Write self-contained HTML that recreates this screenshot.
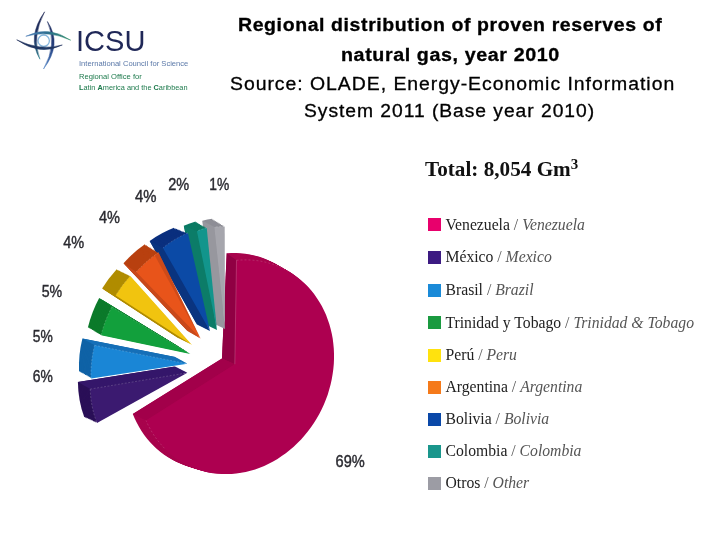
<!DOCTYPE html>
<html><head><meta charset="utf-8"><title>Regional distribution of proven reserves of natural gas</title>
<style>
html,body{margin:0;padding:0;background:#fff;}
body{width:720px;height:540px;position:relative;overflow:hidden;font-family:"Liberation Sans",sans-serif;}
.abs{position:absolute;white-space:nowrap;}
.t{position:absolute;white-space:nowrap;color:#000;font-size:18px;line-height:22px;letter-spacing:0.55px;transform-origin:0 0;-webkit-text-stroke:0.3px #000;}
.tb{font-weight:bold;}
#pie{position:absolute;left:0;top:0;}
#pie text{font-family:"Liberation Sans",sans-serif;font-size:15.6px;fill:#2a2a30;stroke:#2a2a30;stroke-width:0.4px;}
.lg{position:absolute;left:427.8px;height:13.3px;white-space:nowrap;font-family:"Liberation Serif",serif;font-size:15.7px;line-height:13.3px;color:#222;}
.lg i{position:absolute;left:0;top:0;width:12.8px;height:13px;display:block;}
.lg span{position:absolute;left:17.7px;top:-0.6px;}
.lg em{color:#555;}
.lg u{color:#555;text-decoration:none;}
#total{position:absolute;left:425px;top:153.7px;font-family:"Liberation Serif",serif;font-weight:bold;font-size:21.2px;line-height:30px;color:#111;white-space:nowrap;}
#total sup{font-size:15px;vertical-align:baseline;position:relative;top:-6.5px;}
.lo{position:absolute;white-space:nowrap;transform-origin:0 0;}
</style></head><body>
<svg id="pie" width="720" height="540" viewBox="0 0 720 540">
<defs>
<linearGradient id="lg1" x1="0" y1="0" x2="0" y2="1"><stop offset="0" stop-color="#1b2250"/><stop offset="0.6" stop-color="#1f3566"/><stop offset="1" stop-color="#2c7f8c"/></linearGradient>
<linearGradient id="lg2" x1="0" y1="0" x2="0" y2="1"><stop offset="0" stop-color="#1d2b5c"/><stop offset="0.5" stop-color="#27407e"/><stop offset="1" stop-color="#4a7fc4"/></linearGradient>
<linearGradient id="lg3" x1="0" y1="0" x2="1" y2="0"><stop offset="0" stop-color="#4f7fb8"/><stop offset="0.45" stop-color="#2f6f93"/><stop offset="1" stop-color="#2c8c66"/></linearGradient>
<linearGradient id="lg4" x1="0" y1="0" x2="1" y2="0"><stop offset="0" stop-color="#1b2a57"/><stop offset="0.6" stop-color="#1f3a66"/><stop offset="1" stop-color="#1f2f5c"/></linearGradient>
</defs>
<g id="logo" stroke="none">
<circle cx="43.7" cy="40.7" r="5.7" fill="none" stroke="#86b6dc" stroke-width="1.3"/>
<path d="M44.6 11.8 Q26.6 37 39.9 59.2 Q31.4 37 44.6 11.8Z" fill="url(#lg1)" stroke="url(#lg1)" stroke-width="0.5" stroke-linejoin="round"/>
<path d="M47.4 21.5 Q62.6 44 43.5 69 Q57.6 44 47.4 21.5Z" fill="url(#lg2)" stroke="url(#lg2)" stroke-width="0.5" stroke-linejoin="round"/>
<path d="M25.8 36.3 Q48 24.8 70.7 40.2 Q48 29.7 25.8 36.3Z" fill="url(#lg3)" stroke="url(#lg3)" stroke-width="0.5" stroke-linejoin="round"/>
<path d="M16.7 39.8 Q40 56.4 62.3 45 Q40 51.4 16.7 39.8Z" fill="url(#lg4)" stroke="url(#lg4)" stroke-width="0.5" stroke-linejoin="round"/>
</g>
<path d="M222.0 358.4 L226.7 253.3 L231.4 253.0 L236.0 253.0 L240.6 253.2 L245.2 253.7 L249.8 254.4 L254.2 255.4 L258.6 256.6 L262.9 258.0 L267.1 259.7 L271.3 261.7 L275.3 263.8 L279.1 266.2 L282.9 268.8 L286.5 271.6 L290.0 274.7 L293.3 277.9 L296.4 281.3 L299.4 284.9 L302.2 288.7 L304.8 292.7 L307.2 296.8 L309.5 301.0 L311.5 305.4 L313.3 309.9 L314.9 314.6 L316.3 319.3 L317.5 324.2 L318.5 329.1 L319.2 334.1 L319.8 339.2 L320.1 344.3 L320.1 349.5 L320.0 354.7 L319.6 359.9 L319.0 365.1 L318.2 370.3 L317.1 375.5 L315.9 380.6 L314.4 385.7 L312.7 390.8 L310.8 395.7 L308.7 400.6 L306.4 405.5 L303.9 410.2 L301.2 414.7 L298.3 419.2 L295.3 423.5 L292.1 427.7 L288.7 431.8 L285.2 435.6 L281.5 439.3 L277.7 442.8 L273.8 446.2 L269.8 449.3 L265.6 452.2 L261.3 455.0 L257.0 457.5 L252.6 459.7 L248.1 461.8 L243.5 463.6 L238.9 465.2 L234.3 466.5 L229.7 467.6 L225.0 468.5 L220.3 469.1 L215.6 469.4 L211.0 469.5 L206.3 469.4 L201.7 469.0 L197.2 468.3 L192.7 467.4 L188.3 466.3 L183.9 464.9 L179.7 463.3 L175.6 461.4 L171.5 459.3 L167.6 457.0 L163.8 454.5 L160.2 451.7 L156.6 448.7 L153.3 445.6 L150.1 442.2 L147.1 438.7 L144.2 434.9 L141.5 431.0 L139.1 427.0 L136.8 422.7 L134.7 418.4 L132.8 413.9Z" fill="#a8044d"/>
<path d="M223.3 359.0 L227.7 254.0 L232.4 253.7 L237.0 253.7 L241.6 253.9 L246.2 254.4 L250.8 255.1 L255.2 256.0 L259.7 257.2 L264.0 258.7 L268.2 260.4 L272.3 262.3 L276.3 264.4 L280.2 266.8 L284.0 269.4 L287.6 272.2 L291.1 275.2 L294.4 278.5 L297.6 281.9 L300.6 285.5 L303.4 289.2 L306.0 293.2 L308.5 297.3 L310.7 301.5 L312.8 305.9 L314.6 310.4 L316.2 315.1 L317.6 319.8 L318.8 324.7 L319.8 329.6 L320.6 334.6 L321.1 339.7 L321.4 344.8 L321.5 349.9 L321.4 355.1 L321.0 360.3 L320.4 365.5 L319.6 370.7 L318.6 375.9 L317.3 381.0 L315.9 386.1 L314.2 391.2 L312.3 396.1 L310.2 401.0 L307.9 405.8 L305.4 410.5 L302.7 415.1 L299.9 419.6 L296.9 423.9 L293.7 428.1 L290.3 432.1 L286.8 436.0 L283.1 439.7 L279.3 443.2 L275.4 446.6 L271.4 449.7 L267.2 452.6 L263.0 455.3 L258.6 457.9 L254.2 460.1 L249.7 462.2 L245.2 464.0 L240.6 465.6 L235.9 466.9 L231.3 468.0 L226.6 468.9 L221.9 469.5 L217.2 469.9 L212.5 470.0 L207.9 469.8 L203.3 469.5 L198.7 468.8 L194.3 467.9 L189.8 466.8 L185.5 465.4 L181.2 463.8 L177.1 461.9 L173.0 459.9 L169.1 457.6 L165.3 455.0 L161.6 452.3 L158.1 449.3 L154.7 446.2 L151.5 442.8 L148.5 439.3 L145.6 435.5 L142.9 431.6 L140.4 427.6 L138.1 423.4 L136.0 419.0 L134.1 414.6Z" fill="#a8044d"/>
<path d="M224.6 359.6 L228.7 254.7 L233.3 254.4 L238.0 254.4 L242.6 254.6 L247.2 255.0 L251.8 255.7 L256.3 256.7 L260.7 257.9 L265.0 259.3 L269.3 261.0 L273.4 262.9 L277.4 265.0 L281.3 267.4 L285.1 270.0 L288.7 272.8 L292.2 275.8 L295.6 279.0 L298.7 282.4 L301.8 286.0 L304.6 289.8 L307.2 293.7 L309.7 297.8 L311.9 302.0 L314.0 306.4 L315.9 310.9 L317.5 315.5 L318.9 320.3 L320.2 325.1 L321.1 330.0 L321.9 335.0 L322.5 340.1 L322.8 345.2 L322.9 350.4 L322.8 355.5 L322.4 360.7 L321.9 365.9 L321.1 371.1 L320.0 376.3 L318.8 381.4 L317.3 386.5 L315.7 391.5 L313.8 396.5 L311.7 401.4 L309.4 406.2 L307.0 410.9 L304.3 415.5 L301.5 420.0 L298.4 424.3 L295.2 428.5 L291.9 432.5 L288.4 436.4 L284.7 440.1 L280.9 443.6 L277.0 446.9 L273.0 450.1 L268.8 453.0 L264.6 455.7 L260.2 458.2 L255.8 460.5 L251.3 462.6 L246.8 464.4 L242.2 466.0 L237.5 467.4 L232.9 468.5 L228.2 469.3 L223.5 470.0 L218.8 470.3 L214.1 470.4 L209.5 470.3 L204.9 469.9 L200.3 469.3 L195.8 468.4 L191.4 467.3 L187.0 465.9 L182.8 464.3 L178.6 462.5 L174.5 460.4 L170.6 458.1 L166.8 455.6 L163.1 452.8 L159.5 449.9 L156.2 446.7 L152.9 443.4 L149.9 439.9 L147.0 436.2 L144.3 432.3 L141.8 428.2 L139.5 424.0 L137.4 419.7 L135.4 415.2Z" fill="#a8044d"/>
<path d="M225.8 360.1 L229.6 255.4 L234.3 255.1 L239.0 255.1 L243.7 255.3 L248.3 255.7 L252.8 256.4 L257.3 257.3 L261.7 258.5 L266.1 260.0 L270.3 261.6 L274.5 263.5 L278.5 265.7 L282.4 268.0 L286.2 270.6 L289.9 273.4 L293.4 276.4 L296.7 279.6 L299.9 283.0 L302.9 286.5 L305.8 290.3 L308.4 294.2 L310.9 298.3 L313.2 302.5 L315.3 306.9 L317.1 311.4 L318.8 316.0 L320.2 320.8 L321.5 325.6 L322.5 330.5 L323.3 335.5 L323.8 340.5 L324.2 345.6 L324.3 350.8 L324.2 356.0 L323.8 361.1 L323.3 366.3 L322.5 371.5 L321.5 376.7 L320.3 381.8 L318.8 386.9 L317.2 391.9 L315.3 396.9 L313.2 401.8 L311.0 406.6 L308.5 411.3 L305.8 415.9 L303.0 420.3 L300.0 424.7 L296.8 428.9 L293.5 432.9 L290.0 436.8 L286.3 440.5 L282.5 444.0 L278.6 447.3 L274.6 450.5 L270.4 453.4 L266.2 456.1 L261.8 458.6 L257.4 460.9 L252.9 463.0 L248.4 464.8 L243.8 466.4 L239.1 467.8 L234.5 468.9 L229.8 469.8 L225.1 470.4 L220.4 470.8 L215.7 470.9 L211.1 470.8 L206.4 470.4 L201.9 469.8 L197.4 468.9 L192.9 467.8 L188.6 466.4 L184.3 464.8 L180.1 463.0 L176.0 460.9 L172.1 458.7 L168.2 456.1 L164.5 453.4 L161.0 450.5 L157.6 447.3 L154.4 444.0 L151.3 440.5 L148.4 436.8 L145.7 432.9 L143.2 428.9 L140.8 424.7 L138.7 420.3 L136.8 415.9Z" fill="#a8044d"/>
<path d="M227.1 360.7 L230.6 256.1 L235.3 255.8 L240.0 255.7 L244.7 255.9 L249.3 256.4 L253.8 257.1 L258.3 258.0 L262.8 259.2 L267.1 260.6 L271.4 262.3 L275.5 264.1 L279.6 266.3 L283.5 268.6 L287.3 271.2 L291.0 274.0 L294.5 277.0 L297.9 280.1 L301.1 283.5 L304.1 287.1 L307.0 290.8 L309.6 294.7 L312.1 298.8 L314.4 303.0 L316.5 307.4 L318.4 311.9 L320.1 316.5 L321.5 321.2 L322.8 326.0 L323.8 330.9 L324.6 335.9 L325.2 341.0 L325.5 346.1 L325.7 351.2 L325.6 356.4 L325.3 361.6 L324.7 366.7 L323.9 371.9 L323.0 377.1 L321.7 382.2 L320.3 387.3 L318.7 392.3 L316.8 397.3 L314.8 402.2 L312.5 407.0 L310.0 411.7 L307.4 416.3 L304.6 420.7 L301.6 425.0 L298.4 429.2 L295.0 433.3 L291.6 437.1 L287.9 440.8 L284.1 444.4 L280.2 447.7 L276.2 450.9 L272.0 453.8 L267.8 456.5 L263.5 459.0 L259.0 461.3 L254.6 463.4 L250.0 465.3 L245.4 466.9 L240.8 468.2 L236.1 469.3 L231.4 470.2 L226.7 470.8 L222.0 471.2 L217.3 471.4 L212.6 471.2 L208.0 470.9 L203.4 470.3 L198.9 469.4 L194.5 468.3 L190.1 466.9 L185.8 465.4 L181.6 463.5 L177.5 461.5 L173.6 459.2 L169.7 456.7 L166.0 454.0 L162.5 451.0 L159.0 447.9 L155.8 444.6 L152.7 441.1 L149.8 437.4 L147.1 433.5 L144.5 429.5 L142.2 425.3 L140.0 421.0 L138.1 416.5Z" fill="#a8044d"/>
<path d="M228.4 361.3 L231.6 256.8 L236.3 256.5 L241.0 256.4 L245.7 256.6 L250.3 257.0 L254.8 257.7 L259.4 258.6 L263.8 259.8 L268.2 261.2 L272.4 262.9 L276.6 264.8 L280.7 266.9 L284.6 269.2 L288.4 271.8 L292.1 274.5 L295.6 277.5 L299.0 280.7 L302.2 284.1 L305.3 287.6 L308.1 291.4 L310.8 295.3 L313.3 299.3 L315.6 303.5 L317.7 307.9 L319.6 312.4 L321.3 317.0 L322.8 321.7 L324.1 326.5 L325.1 331.4 L325.9 336.4 L326.5 341.4 L326.9 346.5 L327.1 351.6 L327.0 356.8 L326.7 362.0 L326.1 367.1 L325.4 372.3 L324.4 377.5 L323.2 382.6 L321.8 387.7 L320.2 392.7 L318.3 397.7 L316.3 402.6 L314.0 407.4 L311.6 412.0 L308.9 416.6 L306.1 421.1 L303.1 425.4 L300.0 429.6 L296.6 433.6 L293.1 437.5 L289.5 441.2 L285.7 444.8 L281.8 448.1 L277.8 451.2 L273.7 454.2 L269.4 456.9 L265.1 459.4 L260.7 461.7 L256.2 463.8 L251.6 465.7 L247.0 467.3 L242.4 468.6 L237.7 469.8 L233.0 470.7 L228.3 471.3 L223.6 471.7 L218.9 471.8 L214.2 471.7 L209.6 471.4 L205.0 470.8 L200.5 469.9 L196.0 468.8 L191.6 467.5 L187.3 465.9 L183.1 464.1 L179.0 462.0 L175.1 459.7 L171.2 457.3 L167.5 454.5 L163.9 451.6 L160.5 448.5 L157.2 445.2 L154.1 441.7 L151.2 438.0 L148.4 434.1 L145.9 430.1 L143.5 426.0 L141.4 421.6 L139.4 417.2Z" fill="#a8044d"/>
<path d="M229.7 361.9 L232.6 257.5 L237.3 257.2 L242.0 257.1 L246.7 257.3 L251.3 257.7 L255.9 258.4 L260.4 259.3 L264.8 260.5 L269.2 261.9 L273.5 263.5 L277.7 265.4 L281.7 267.5 L285.7 269.8 L289.5 272.4 L293.2 275.1 L296.8 278.1 L300.2 281.3 L303.4 284.6 L306.4 288.2 L309.3 291.9 L312.0 295.8 L314.6 299.8 L316.9 304.0 L319.0 308.4 L320.9 312.9 L322.6 317.5 L324.1 322.2 L325.4 327.0 L326.5 331.9 L327.3 336.8 L327.9 341.9 L328.3 346.9 L328.5 352.1 L328.4 357.2 L328.1 362.4 L327.6 367.6 L326.8 372.7 L325.9 377.9 L324.7 383.0 L323.3 388.1 L321.7 393.1 L319.8 398.1 L317.8 402.9 L315.6 407.7 L313.1 412.4 L310.5 417.0 L307.7 421.5 L304.7 425.8 L301.5 430.0 L298.2 434.0 L294.7 437.9 L291.1 441.6 L287.3 445.1 L283.4 448.5 L279.4 451.6 L275.3 454.6 L271.0 457.3 L266.7 459.8 L262.3 462.1 L257.8 464.2 L253.2 466.1 L248.6 467.7 L244.0 469.1 L239.3 470.2 L234.6 471.1 L229.9 471.7 L225.2 472.1 L220.5 472.3 L215.8 472.2 L211.2 471.8 L206.6 471.2 L202.0 470.4 L197.6 469.3 L193.2 468.0 L188.9 466.4 L184.6 464.6 L180.5 462.6 L176.5 460.3 L172.7 457.8 L168.9 455.1 L165.4 452.2 L161.9 449.1 L158.6 445.8 L155.5 442.3 L152.6 438.6 L149.8 434.8 L147.3 430.8 L144.9 426.6 L142.7 422.3 L140.7 417.9Z" fill="#a8044d"/>
<path d="M231.0 362.5 L233.6 258.2 L238.3 257.9 L243.0 257.8 L247.7 258.0 L252.3 258.4 L256.9 259.1 L261.4 260.0 L265.9 261.1 L270.2 262.5 L274.5 264.1 L278.7 266.0 L282.8 268.1 L286.8 270.4 L290.6 272.9 L294.3 275.7 L297.9 278.7 L301.3 281.8 L304.5 285.2 L307.6 288.7 L310.5 292.4 L313.2 296.3 L315.8 300.4 L318.1 304.6 L320.2 308.9 L322.2 313.4 L323.9 317.9 L325.4 322.6 L326.7 327.4 L327.8 332.3 L328.6 337.3 L329.3 342.3 L329.7 347.4 L329.8 352.5 L329.8 357.6 L329.5 362.8 L329.0 368.0 L328.3 373.1 L327.3 378.3 L326.2 383.4 L324.8 388.5 L323.2 393.5 L321.3 398.4 L319.3 403.3 L317.1 408.1 L314.7 412.8 L312.1 417.4 L309.3 421.8 L306.3 426.2 L303.1 430.4 L299.8 434.4 L296.3 438.3 L292.7 442.0 L288.9 445.5 L285.0 448.9 L281.0 452.0 L276.9 455.0 L272.6 457.7 L268.3 460.2 L263.9 462.5 L259.4 464.6 L254.8 466.5 L250.2 468.1 L245.6 469.5 L240.9 470.6 L236.2 471.5 L231.5 472.2 L226.8 472.6 L222.1 472.7 L217.4 472.7 L212.7 472.3 L208.1 471.7 L203.6 470.9 L199.1 469.8 L194.7 468.5 L190.4 466.9 L186.2 465.1 L182.0 463.1 L178.0 460.8 L174.2 458.4 L170.4 455.7 L166.8 452.8 L163.4 449.7 L160.1 446.4 L156.9 442.9 L154.0 439.2 L151.2 435.4 L148.6 431.4 L146.2 427.2 L144.0 423.0 L142.0 418.5Z" fill="#a8044d"/>
<path d="M232.2 363.0 L234.6 258.9 L239.3 258.6 L244.0 258.5 L248.7 258.7 L253.3 259.1 L257.9 259.7 L262.4 260.6 L266.9 261.8 L271.3 263.1 L275.6 264.8 L279.8 266.6 L283.9 268.7 L287.9 271.0 L291.7 273.5 L295.4 276.3 L299.0 279.2 L302.4 282.4 L305.7 285.7 L308.8 289.3 L311.7 293.0 L314.4 296.8 L317.0 300.9 L319.3 305.1 L321.5 309.4 L323.4 313.8 L325.2 318.4 L326.7 323.1 L328.0 327.9 L329.1 332.8 L330.0 337.7 L330.6 342.7 L331.0 347.8 L331.2 352.9 L331.2 358.1 L330.9 363.2 L330.4 368.4 L329.7 373.5 L328.8 378.7 L327.6 383.8 L326.3 388.9 L324.7 393.9 L322.9 398.8 L320.8 403.7 L318.6 408.5 L316.2 413.2 L313.6 417.8 L310.8 422.2 L307.8 426.5 L304.7 430.7 L301.4 434.8 L297.9 438.7 L294.3 442.4 L290.5 445.9 L286.6 449.2 L282.6 452.4 L278.5 455.4 L274.3 458.1 L269.9 460.6 L265.5 463.0 L261.0 465.0 L256.5 466.9 L251.8 468.5 L247.2 469.9 L242.5 471.1 L237.8 472.0 L233.1 472.6 L228.4 473.0 L223.6 473.2 L219.0 473.1 L214.3 472.8 L209.7 472.2 L205.1 471.4 L200.7 470.3 L196.2 469.0 L191.9 467.4 L187.7 465.7 L183.5 463.6 L179.5 461.4 L175.6 458.9 L171.9 456.2 L168.3 453.4 L164.8 450.3 L161.5 447.0 L158.3 443.5 L155.4 439.8 L152.6 436.0 L150.0 432.0 L147.6 427.9 L145.4 423.6 L143.4 419.2Z" fill="#a8044d"/>
<path d="M233.5 363.6 L235.5 259.6 L240.3 259.3 L245.0 259.2 L249.7 259.3 L254.3 259.7 L258.9 260.4 L263.5 261.3 L267.9 262.4 L272.3 263.8 L276.7 265.4 L280.9 267.2 L285.0 269.3 L289.0 271.6 L292.8 274.1 L296.6 276.9 L300.1 279.8 L303.6 282.9 L306.9 286.3 L310.0 289.8 L312.9 293.5 L315.6 297.4 L318.2 301.4 L320.6 305.6 L322.7 309.9 L324.7 314.3 L326.5 318.9 L328.0 323.6 L329.3 328.4 L330.4 333.2 L331.3 338.2 L332.0 343.2 L332.4 348.2 L332.6 353.3 L332.6 358.5 L332.3 363.6 L331.9 368.8 L331.2 373.9 L330.2 379.1 L329.1 384.2 L327.7 389.2 L326.2 394.3 L324.4 399.2 L322.4 404.1 L320.2 408.9 L317.8 413.6 L315.2 418.1 L312.4 422.6 L309.4 426.9 L306.3 431.1 L303.0 435.2 L299.5 439.0 L295.9 442.7 L292.1 446.3 L288.2 449.6 L284.2 452.8 L280.1 455.7 L275.9 458.5 L271.5 461.0 L267.1 463.4 L262.6 465.4 L258.1 467.3 L253.5 468.9 L248.8 470.3 L244.1 471.5 L239.4 472.4 L234.7 473.1 L229.9 473.5 L225.2 473.7 L220.5 473.6 L215.9 473.3 L211.3 472.7 L206.7 471.9 L202.2 470.8 L197.8 469.5 L193.4 468.0 L189.2 466.2 L185.0 464.2 L181.0 461.9 L177.1 459.5 L173.3 456.8 L169.7 453.9 L166.2 450.9 L162.9 447.6 L159.8 444.1 L156.8 440.5 L154.0 436.6 L151.3 432.7 L148.9 428.5 L146.7 424.3 L144.7 419.8Z" fill="#a8044d"/>
<path d="M222.0 358.4 L234.8 364.2 L236.5 260.3 L226.7 253.3Z" fill="#900043"/>
<path d="M222.0 358.4 L234.8 364.2 L146.0 420.5 L132.8 413.9Z" fill="#a2004a"/>
<path d="M234.8 364.2 L236.5 260.3 L241.3 260.0 L246.0 259.9 L250.7 260.0 L255.3 260.4 L259.9 261.0 L264.5 261.9 L269.0 263.0 L273.4 264.4 L277.7 266.0 L281.9 267.9 L286.1 269.9 L290.1 272.2 L293.9 274.7 L297.7 277.4 L301.3 280.4 L304.7 283.5 L308.0 286.8 L311.1 290.3 L314.1 294.0 L316.8 297.9 L319.4 301.9 L321.8 306.1 L324.0 310.4 L326.0 314.8 L327.7 319.4 L329.3 324.0 L330.6 328.8 L331.8 333.7 L332.7 338.6 L333.3 343.6 L333.8 348.7 L334.0 353.8 L334.0 358.9 L333.8 364.0 L333.3 369.2 L332.6 374.3 L331.7 379.5 L330.6 384.6 L329.2 389.6 L327.7 394.7 L325.9 399.6 L323.9 404.5 L321.7 409.3 L319.3 413.9 L316.7 418.5 L313.9 423.0 L311.0 427.3 L307.8 431.5 L304.5 435.5 L301.1 439.4 L297.5 443.1 L293.7 446.7 L289.8 450.0 L285.8 453.2 L281.7 456.1 L277.5 458.9 L273.1 461.4 L268.7 463.8 L264.2 465.9 L259.7 467.7 L255.1 469.4 L250.4 470.8 L245.7 471.9 L241.0 472.8 L236.3 473.5 L231.5 473.9 L226.8 474.1 L222.1 474.1 L217.5 473.7 L212.8 473.2 L208.3 472.4 L203.7 471.3 L199.3 470.0 L195.0 468.5 L190.7 466.7 L186.5 464.7 L182.5 462.5 L178.6 460.0 L174.8 457.4 L171.2 454.5 L167.7 451.4 L164.3 448.2 L161.2 444.7 L158.2 441.1 L155.3 437.3 L152.7 433.3 L150.3 429.2 L148.0 424.9 L146.0 420.5Z" fill="#ad0050"/>
<path d="M236.5 260.3 L234.8 364.2" fill="none" stroke="#fff" stroke-opacity="0.3" stroke-width="0.6"/>
<path d="M236.5 260.3 L241.3 260.0 L246.0 259.9 L250.7 260.0 L255.3 260.4 L259.9 261.0 L264.5 261.9 L269.0 263.0 L273.4 264.4 L277.7 266.0 L281.9 267.9 L286.1 269.9 L290.1 272.2" fill="none" stroke="#fff" stroke-opacity="0.25" stroke-width="0.6" stroke-dasharray="2 2"/>
<path d="M164.3 448.2 L161.2 444.7 L158.2 441.1 L155.3 437.3 L152.7 433.3 L150.3 429.2 L148.0 424.9 L146.0 420.5" fill="none" stroke="#fff" stroke-opacity="0.25" stroke-width="0.6" stroke-dasharray="2 2"/>
<path d="M212.5 323.0 L212.2 218.8 A107.0 91.5 -64.5 0 0 202.5 220.8 Z" fill="#8e8e96"/>
<path d="M213.8 323.6 L213.4 219.5 A107.0 91.5 -64.5 0 0 203.7 221.4 Z" fill="#8e8e96"/>
<path d="M215.0 324.2 L214.7 220.3 A107.0 91.5 -64.5 0 0 204.9 222.1 Z" fill="#8e8e96"/>
<path d="M216.2 324.8 L215.9 221.0 A107.0 91.5 -64.5 0 0 206.0 222.7 Z" fill="#8e8e96"/>
<path d="M217.5 325.4 L217.2 221.8 A107.0 91.5 -64.5 0 0 207.2 223.3 Z" fill="#8e8e96"/>
<path d="M218.8 326.0 L218.4 222.6 A107.0 91.5 -64.5 0 0 208.4 223.9 Z" fill="#8e8e96"/>
<path d="M220.0 326.6 L219.7 223.3 A107.0 91.5 -64.5 0 0 209.6 224.6 Z" fill="#8e8e96"/>
<path d="M221.2 327.2 L220.9 224.1 A107.0 91.5 -64.5 0 0 210.8 225.2 Z" fill="#8e8e96"/>
<path d="M222.5 327.8 L222.2 224.9 A107.0 91.5 -64.5 0 0 211.9 225.8 Z" fill="#8e8e96"/>
<path d="M223.8 328.4 L223.4 225.6 A107.0 91.5 -64.5 0 0 213.1 226.5 Z" fill="#8e8e96"/>
<path d="M212.5 323.0 L225.0 329.0 L214.3 227.1 L202.5 220.8Z" fill="#97979e"/>
<path d="M225.0 329.0 L224.7 226.4 A107.0 91.5 -64.5 0 0 214.3 227.1 Z" fill="#a6a6ad"/>
<path d="M224.7 226.4 A107.0 91.5 -64.5 0 0 214.3 227.1" fill="none" stroke="#fff" stroke-opacity="0.3" stroke-width="0.6" stroke-dasharray="2 1.5"/>
<path d="M204.5 324.0 L195.6 221.5 A107.0 91.5 -64.5 0 0 183.8 225.7 Z" fill="#0b7a63"/>
<path d="M205.8 324.6 L196.7 222.1 A107.0 91.5 -64.5 0 0 185.1 226.3 Z" fill="#0b7a63"/>
<path d="M207.0 325.2 L197.8 222.8 A107.0 91.5 -64.5 0 0 186.4 226.8 Z" fill="#0b7a63"/>
<path d="M208.2 325.8 L198.9 223.4 A107.0 91.5 -64.5 0 0 187.7 227.4 Z" fill="#0b7a63"/>
<path d="M209.5 326.4 L200.0 224.0 A107.0 91.5 -64.5 0 0 189.0 227.9 Z" fill="#0b7a63"/>
<path d="M210.8 327.0 L201.1 224.7 A107.0 91.5 -64.5 0 0 190.3 228.5 Z" fill="#0b7a63"/>
<path d="M212.0 327.6 L202.3 225.3 A107.0 91.5 -64.5 0 0 191.6 229.0 Z" fill="#0b7a63"/>
<path d="M213.2 328.2 L203.4 225.9 A107.0 91.5 -64.5 0 0 193.0 229.6 Z" fill="#0b7a63"/>
<path d="M214.5 328.8 L204.5 226.5 A107.0 91.5 -64.5 0 0 194.3 230.1 Z" fill="#0b7a63"/>
<path d="M215.8 329.4 L205.6 227.2 A107.0 91.5 -64.5 0 0 195.6 230.7 Z" fill="#0b7a63"/>
<path d="M204.5 324.0 L217.0 330.0 L196.9 231.2 L183.8 225.7Z" fill="#0c7c68"/>
<path d="M217.0 330.0 L206.7 227.8 A107.0 91.5 -64.5 0 0 196.9 231.2 Z" fill="#12958c"/>
<path d="M206.7 227.8 A107.0 91.5 -64.5 0 0 196.9 231.2" fill="none" stroke="#fff" stroke-opacity="0.3" stroke-width="0.6" stroke-dasharray="2 1.5"/>
<path d="M197.0 324.5 L174.0 227.8 A107.0 91.5 -64.5 0 0 149.7 241.0 Z" fill="#0a2f7e"/>
<path d="M198.3 325.1 L175.4 228.3 A107.0 91.5 -64.5 0 0 151.0 241.7 Z" fill="#0a2f7e"/>
<path d="M199.6 325.8 L176.8 228.8 A107.0 91.5 -64.5 0 0 152.3 242.4 Z" fill="#0a2f7e"/>
<path d="M200.9 326.4 L178.2 229.3 A107.0 91.5 -64.5 0 0 153.7 243.1 Z" fill="#0a2f7e"/>
<path d="M202.2 327.1 L179.6 229.8 A107.0 91.5 -64.5 0 0 155.0 243.8 Z" fill="#0a2f7e"/>
<path d="M203.5 327.8 L180.9 230.4 A107.0 91.5 -64.5 0 0 156.3 244.4 Z" fill="#0a2f7e"/>
<path d="M204.8 328.4 L182.3 230.9 A107.0 91.5 -64.5 0 0 157.6 245.1 Z" fill="#0a2f7e"/>
<path d="M206.1 329.1 L183.7 231.4 A107.0 91.5 -64.5 0 0 158.9 245.8 Z" fill="#0a2f7e"/>
<path d="M207.4 329.7 L185.1 231.9 A107.0 91.5 -64.5 0 0 160.3 246.5 Z" fill="#0a2f7e"/>
<path d="M208.7 330.4 L186.5 232.4 A107.0 91.5 -64.5 0 0 161.6 247.2 Z" fill="#0a2f7e"/>
<path d="M197.0 324.5 L210.0 331.0 L162.9 247.9 L149.7 241.0Z" fill="#0a347f"/>
<path d="M210.0 331.0 L187.9 232.9 A107.0 91.5 -64.5 0 0 162.9 247.9 Z" fill="#0b4aa6"/>
<path d="M187.9 232.9 A107.0 91.5 -64.5 0 0 162.9 247.9" fill="none" stroke="#fff" stroke-opacity="0.3" stroke-width="0.6" stroke-dasharray="2 1.5"/>
<path d="M187.5 331.0 L144.9 244.3 A107.0 91.5 -64.5 0 0 123.5 263.3 Z" fill="#b8400f"/>
<path d="M188.8 331.8 L146.3 245.1 A107.0 91.5 -64.5 0 0 124.8 264.2 Z" fill="#b8400f"/>
<path d="M190.1 332.5 L147.6 246.0 A107.0 91.5 -64.5 0 0 126.0 265.1 Z" fill="#b8400f"/>
<path d="M191.4 333.2 L149.0 246.8 A107.0 91.5 -64.5 0 0 127.3 265.9 Z" fill="#b8400f"/>
<path d="M192.7 334.0 L150.3 247.6 A107.0 91.5 -64.5 0 0 128.5 266.8 Z" fill="#b8400f"/>
<path d="M194.0 334.8 L151.7 248.4 A107.0 91.5 -64.5 0 0 129.8 267.7 Z" fill="#b8400f"/>
<path d="M195.3 335.5 L153.1 249.3 A107.0 91.5 -64.5 0 0 131.1 268.6 Z" fill="#b8400f"/>
<path d="M196.6 336.2 L154.4 250.1 A107.0 91.5 -64.5 0 0 132.3 269.5 Z" fill="#b8400f"/>
<path d="M197.9 337.0 L155.8 250.9 A107.0 91.5 -64.5 0 0 133.6 270.3 Z" fill="#b8400f"/>
<path d="M199.2 337.8 L157.1 251.8 A107.0 91.5 -64.5 0 0 134.8 271.2 Z" fill="#b8400f"/>
<path d="M187.5 331.0 L200.5 338.5 L136.1 272.1 L123.5 263.3Z" fill="#c8481a"/>
<path d="M200.5 338.5 L158.5 252.6 A107.0 91.5 -64.5 0 0 136.1 272.1 Z" fill="#e8541a"/>
<path d="M158.5 252.6 A107.0 91.5 -64.5 0 0 136.1 272.1" fill="none" stroke="#fff" stroke-opacity="0.3" stroke-width="0.6" stroke-dasharray="2 1.5"/>
<path d="M200.5 338.5 L158.5 252.6 L154.9 255.7Z" fill="#c2461a" opacity="0.7"/>
<path d="M175.0 366.5 L77.9 381.9 A107.0 91.5 -64.5 0 0 84.3 417.3 Z" fill="#2a0f57"/>
<path d="M176.2 367.1 L79.1 382.6 A107.0 91.5 -64.5 0 0 85.6 417.9 Z" fill="#2a0f57"/>
<path d="M177.5 367.8 L80.4 383.3 A107.0 91.5 -64.5 0 0 86.8 418.5 Z" fill="#2a0f57"/>
<path d="M178.7 368.4 L81.6 384.1 A107.0 91.5 -64.5 0 0 88.1 419.0 Z" fill="#2a0f57"/>
<path d="M180.0 369.0 L82.8 384.8 A107.0 91.5 -64.5 0 0 89.4 419.6 Z" fill="#2a0f57"/>
<path d="M181.2 369.6 L84.1 385.5 A107.0 91.5 -64.5 0 0 90.7 420.2 Z" fill="#2a0f57"/>
<path d="M182.4 370.3 L85.3 386.2 A107.0 91.5 -64.5 0 0 91.9 420.8 Z" fill="#2a0f57"/>
<path d="M183.7 370.9 L86.5 386.9 A107.0 91.5 -64.5 0 0 93.2 421.4 Z" fill="#2a0f57"/>
<path d="M184.9 371.5 L87.7 387.7 A107.0 91.5 -64.5 0 0 94.5 421.9 Z" fill="#2a0f57"/>
<path d="M186.2 372.2 L89.0 388.4 A107.0 91.5 -64.5 0 0 95.7 422.5 Z" fill="#2a0f57"/>
<path d="M175.0 366.5 L187.4 372.8 L90.2 389.1 L77.9 381.9Z" fill="#34166a"/>
<path d="M187.4 372.8 L90.2 389.1 A107.0 91.5 -64.5 0 0 97.0 423.1 Z" fill="#3b1a70"/>
<path d="M90.2 389.1 A107.0 91.5 -64.5 0 0 97.0 423.1" fill="none" stroke="#fff" stroke-opacity="0.3" stroke-width="0.6" stroke-dasharray="2 1.5"/>
<path d="M90.2 389.1 L187.4 372.8" fill="none" stroke="#fff" stroke-opacity="0.3" stroke-width="0.6" stroke-dasharray="2 1.5"/>
<path d="M175.2 357.0 L82.4 338.5 A107.0 91.5 -64.5 0 0 79.0 371.5 Z" fill="#0f62a6"/>
<path d="M176.4 357.7 L83.6 339.2 A107.0 91.5 -64.5 0 0 80.2 372.2 Z" fill="#0f62a6"/>
<path d="M177.6 358.4 L84.8 339.9 A107.0 91.5 -64.5 0 0 81.4 372.9 Z" fill="#0f62a6"/>
<path d="M178.9 359.0 L86.1 340.5 A107.0 91.5 -64.5 0 0 82.6 373.6 Z" fill="#0f62a6"/>
<path d="M180.1 359.7 L87.3 341.2 A107.0 91.5 -64.5 0 0 83.8 374.3 Z" fill="#0f62a6"/>
<path d="M181.3 360.4 L88.5 341.9 A107.0 91.5 -64.5 0 0 85.0 374.9 Z" fill="#0f62a6"/>
<path d="M182.5 361.1 L89.7 342.6 A107.0 91.5 -64.5 0 0 86.3 375.6 Z" fill="#0f62a6"/>
<path d="M183.7 361.8 L90.9 343.3 A107.0 91.5 -64.5 0 0 87.5 376.3 Z" fill="#0f62a6"/>
<path d="M185.0 362.4 L92.2 343.9 A107.0 91.5 -64.5 0 0 88.7 377.0 Z" fill="#0f62a6"/>
<path d="M186.2 363.1 L93.4 344.6 A107.0 91.5 -64.5 0 0 89.9 377.7 Z" fill="#0f62a6"/>
<path d="M175.2 357.0 L187.4 363.8 L94.6 345.3 L82.4 338.5Z" fill="#156fb8"/>
<path d="M187.4 363.8 L94.6 345.3 A107.0 91.5 -64.5 0 0 91.1 378.4 Z" fill="#1a86d6"/>
<path d="M94.6 345.3 A107.0 91.5 -64.5 0 0 91.1 378.4" fill="none" stroke="#fff" stroke-opacity="0.3" stroke-width="0.6" stroke-dasharray="2 1.5"/>
<path d="M94.6 345.3 L187.4 363.8" fill="none" stroke="#fff" stroke-opacity="0.3" stroke-width="0.6" stroke-dasharray="2 1.5"/>
<path d="M177.5 346.0 L99.2 298.0 A107.0 91.5 -64.5 0 0 87.9 327.5 Z" fill="#0b7a2a"/>
<path d="M178.8 346.8 L100.5 298.9 A107.0 91.5 -64.5 0 0 89.2 328.3 Z" fill="#0b7a2a"/>
<path d="M180.1 347.6 L101.7 299.8 A107.0 91.5 -64.5 0 0 90.5 329.1 Z" fill="#0b7a2a"/>
<path d="M181.3 348.4 L103.0 300.7 A107.0 91.5 -64.5 0 0 91.9 329.8 Z" fill="#0b7a2a"/>
<path d="M182.6 349.2 L104.2 301.6 A107.0 91.5 -64.5 0 0 93.2 330.6 Z" fill="#0b7a2a"/>
<path d="M183.9 350.0 L105.5 302.6 A107.0 91.5 -64.5 0 0 94.5 331.4 Z" fill="#0b7a2a"/>
<path d="M185.2 350.8 L106.8 303.5 A107.0 91.5 -64.5 0 0 95.8 332.2 Z" fill="#0b7a2a"/>
<path d="M186.5 351.6 L108.0 304.4 A107.0 91.5 -64.5 0 0 97.1 333.0 Z" fill="#0b7a2a"/>
<path d="M187.7 352.4 L109.3 305.3 A107.0 91.5 -64.5 0 0 98.5 333.7 Z" fill="#0b7a2a"/>
<path d="M189.0 353.2 L110.5 306.2 A107.0 91.5 -64.5 0 0 99.8 334.5 Z" fill="#0b7a2a"/>
<path d="M177.5 346.0 L190.3 354.0 L111.8 307.1 L99.2 298.0Z" fill="#0f8a33"/>
<path d="M190.3 354.0 L111.8 307.1 A107.0 91.5 -64.5 0 0 101.1 335.3 Z" fill="#12a03c"/>
<path d="M111.8 307.1 A107.0 91.5 -64.5 0 0 101.1 335.3" fill="none" stroke="#fff" stroke-opacity="0.3" stroke-width="0.6" stroke-dasharray="2 1.5"/>
<path d="M111.8 307.1 L190.3 354.0" fill="none" stroke="#fff" stroke-opacity="0.3" stroke-width="0.6" stroke-dasharray="2 1.5"/>
<path d="M178.5 338.2 L116.7 269.2 A107.0 91.5 -64.5 0 0 102.1 288.6 Z" fill="#b08c00"/>
<path d="M179.8 338.9 L118.1 269.9 A107.0 91.5 -64.5 0 0 103.5 289.3 Z" fill="#b08c00"/>
<path d="M181.2 339.6 L119.4 270.6 A107.0 91.5 -64.5 0 0 104.8 290.0 Z" fill="#b08c00"/>
<path d="M182.6 340.2 L120.8 271.2 A107.0 91.5 -64.5 0 0 106.2 290.6 Z" fill="#b08c00"/>
<path d="M183.9 340.9 L122.1 271.9 A107.0 91.5 -64.5 0 0 107.5 291.3 Z" fill="#b08c00"/>
<path d="M185.2 341.6 L123.5 272.6 A107.0 91.5 -64.5 0 0 108.9 292.0 Z" fill="#b08c00"/>
<path d="M186.6 342.3 L124.9 273.3 A107.0 91.5 -64.5 0 0 110.3 292.7 Z" fill="#b08c00"/>
<path d="M187.9 343.0 L126.2 274.0 A107.0 91.5 -64.5 0 0 111.6 293.4 Z" fill="#b08c00"/>
<path d="M189.3 343.6 L127.6 274.6 A107.0 91.5 -64.5 0 0 113.0 294.0 Z" fill="#b08c00"/>
<path d="M190.7 344.3 L128.9 275.3 A107.0 91.5 -64.5 0 0 114.3 294.7 Z" fill="#b08c00"/>
<path d="M192.0 345.0 L130.3 276.0 A107.0 91.5 -64.5 0 0 115.7 295.4 Z" fill="#f1c40f"/>
<path d="M130.3 276.0 A107.0 91.5 -64.5 0 0 115.7 295.4" fill="none" stroke="#fff" stroke-opacity="0.3" stroke-width="0.6" stroke-dasharray="2 1.5"/>
<g>
<text x="209.3" y="190.0" textLength="20.0" lengthAdjust="spacingAndGlyphs">1%</text>
<text x="168.3" y="190.0" textLength="21.0" lengthAdjust="spacingAndGlyphs">2%</text>
<text x="135.0" y="202.3" textLength="21.5" lengthAdjust="spacingAndGlyphs">4%</text>
<text x="99.0" y="222.7" textLength="21.0" lengthAdjust="spacingAndGlyphs">4%</text>
<text x="63.3" y="248.3" textLength="21.0" lengthAdjust="spacingAndGlyphs">4%</text>
<text x="41.7" y="296.5" textLength="20.5" lengthAdjust="spacingAndGlyphs">5%</text>
<text x="32.8" y="342.3" textLength="20.0" lengthAdjust="spacingAndGlyphs">5%</text>
<text x="32.8" y="382.0" textLength="20.0" lengthAdjust="spacingAndGlyphs">6%</text>
<text x="335.6" y="467.2" textLength="29.2" lengthAdjust="spacingAndGlyphs">69%</text>
</g>
</svg>
<div class="lo" style="left:75.8px;top:24.7px;font-size:29.8px;line-height:32px;color:#1f2757;transform:scaleX(0.975);">ICSU</div>
<div class="lo" style="left:79px;top:58.5px;font-size:7.6px;line-height:10px;color:#5a78a8;">International Council for Science</div>
<div class="lo" style="left:79px;top:71.6px;font-size:7.6px;line-height:10px;color:#1d7a4c;">Regional Office for</div>
<div class="lo" style="left:79px;top:82.6px;font-size:7.6px;line-height:10px;color:#1d7a4c;transform:scaleX(0.97);"><b>L</b>atin <b>A</b>merica and the <b>C</b>aribbean</div>

<div class="t tb" id="t1" style="left:237.7px;top:14.2px;transform:scaleX(1.083);">Regional distribution of proven reserves of</div>
<div class="t tb" id="t2" style="left:341px;top:43.6px;transform:scaleX(1.093);">natural gas, year 2010</div>
<div class="t" id="t3" style="left:230px;top:72.7px;letter-spacing:0.9px;transform:scaleX(1.078);">Source: OLADE, Energy-Economic Information</div>
<div class="t" id="t4" style="left:304px;top:100px;letter-spacing:0.9px;transform:scaleX(1.07);">System 2011 (Base year 2010)</div>

<div id="total">Total: 8,054 Gm<sup>3</sup></div>
<div class="lg" style="top:218.3px"><i style="background:#e8006c"></i><span>Venezuela <u>/</u> <em>Venezuela</em></span></div>
<div class="lg" style="top:251.0px"><i style="background:#3c1a82"></i><span>México <u>/</u> <em>Mexico</em></span></div>
<div class="lg" style="top:283.6px"><i style="background:#1a8ad8"></i><span>Brasil <u>/</u> <em>Brazil</em></span></div>
<div class="lg" style="top:316.1px"><i style="background:#1a9a40"></i><span>Trinidad y Tobago <u>/</u> <em>Trinidad &amp; Tobago</em></span></div>
<div class="lg" style="top:348.6px"><i style="background:#ffe20e"></i><span>Perú <u>/</u> <em>Peru</em></span></div>
<div class="lg" style="top:380.5px"><i style="background:#f57a1a"></i><span>Argentina <u>/</u> <em>Argentina</em></span></div>
<div class="lg" style="top:412.8px"><i style="background:#0a48a8"></i><span>Bolivia <u>/</u> <em>Bolivia</em></span></div>
<div class="lg" style="top:444.9px"><i style="background:#1a968c"></i><span>Colombia <u>/</u> <em>Colombia</em></span></div>
<div class="lg" style="top:476.9px"><i style="background:#9c9ca4"></i><span>Otros <u>/</u> <em>Other</em></span></div>
</body></html>
